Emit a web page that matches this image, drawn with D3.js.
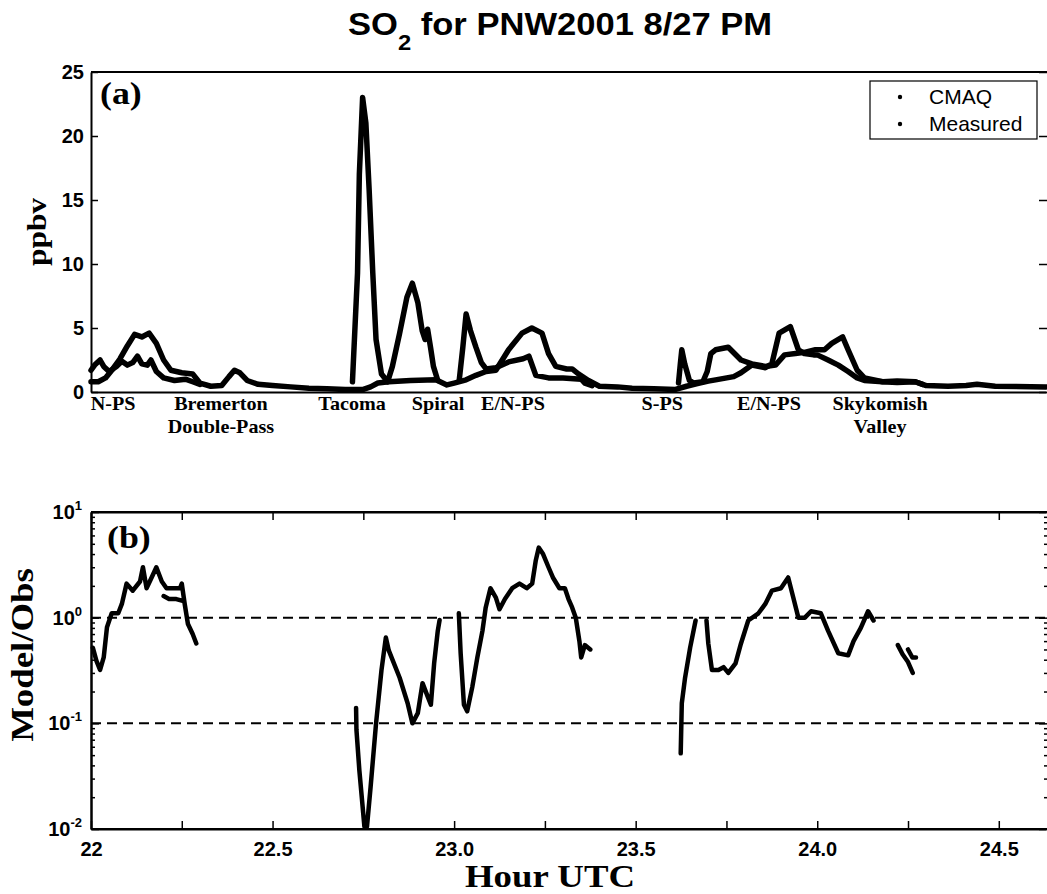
<!DOCTYPE html>
<html>
<head>
<meta charset="utf-8">
<script src="https://cdn.jsdelivr.net/npm/d3@7"></script>
<style>
  body { margin: 0; background: #fff; }
  svg { display: block; }
</style>
</head>
<body>
<svg width="1047" height="894"></svg>
<script>
// ---- data: [hour UTC, value], null = gap ----
const cmaq = [
  [22.00,0.8],[22.02,0.8],[22.04,1.1],[22.06,1.8],[22.08,2.6],[22.10,3.6],[22.12,4.5],[22.14,4.3],
  [22.16,4.6],[22.18,3.8],[22.20,2.5],[22.22,1.7],[22.25,1.5],[22.28,1.4],[22.30,0.7],[22.33,0.45],
  [22.36,0.5],[22.38,1.2],[22.395,1.7],[22.41,1.5],[22.43,0.9],[22.46,0.6],[22.50,0.5],[22.55,0.4],
  [22.60,0.3],[22.65,0.25],[22.70,0.2],[22.75,0.2],[22.77,0.4],[22.79,0.7],[22.82,0.8],[22.88,0.9],
  [22.95,0.95],[22.98,0.55],[23.00,0.7],[23.033,0.95],[23.06,1.3],[23.088,1.6],[23.115,1.7],
  [23.15,3.3],[23.187,4.6],[23.214,5.0],[23.242,4.6],[23.26,3.0],[23.28,2.0],[23.31,1.8],[23.325,1.8],
  [23.343,1.4],[23.37,0.9],[23.40,0.45],[23.45,0.4],[23.49,0.3],[23.55,0.25],[23.61,0.2],[23.64,0.45],
  [23.67,0.65],[23.70,0.85],[23.72,0.95],[23.77,1.2],[23.79,1.5],[23.82,2.1],[23.857,1.9],[23.875,2.2],
  [23.895,4.6],[23.926,5.1],[23.948,3.3],[23.965,3.0],[23.99,2.9],[24.00,2.9],[24.03,2.5],[24.058,2.1],
  [24.085,1.6],[24.11,1.1],[24.13,0.9],[24.18,0.8],[24.22,0.85],[24.27,0.8],[24.30,0.5],[24.36,0.45],
  [24.41,0.5],[24.44,0.6],[24.49,0.45],[24.63,0.4]
];
const measured = [
  [22.00,1.7],[22.01,2.1],[22.025,2.5],[22.035,2.0],[22.05,1.6],[22.07,2.0],[22.085,2.4],[22.10,2.1],
  [22.115,2.3],[22.128,2.8],[22.14,2.2],[22.155,2.1],[22.165,2.5],[22.18,1.6],[22.20,1.1],[22.23,0.9],
  [22.26,1.0],[22.28,0.8],[22.30,0.6],
  null,
  [22.72,0.8],[22.734,9.3],[22.739,17],[22.748,23],[22.757,21],[22.766,15.8],[22.776,9.3],[22.785,4.1],
  [22.80,1.4],[22.817,0.8],[22.83,2.0],[22.85,4.6],[22.87,7.4],[22.885,8.5],[22.90,7.0],[22.912,4.8],
  [22.92,4.1],[22.927,4.9],[22.935,3.5],[22.943,2.0],[22.955,0.9],
  null,
  [23.014,0.9],[23.024,3.5],[23.033,6.1],[23.045,4.8],[23.06,3.5],[23.075,2.3],[23.088,1.8],[23.115,1.9],
  [23.15,2.35],[23.19,2.6],[23.206,2.8],[23.225,1.3],[23.26,1.1],[23.30,1.1],[23.35,1.0],[23.36,0.7],
  [23.38,0.5],
  null,
  [23.618,0.7],[23.623,2.2],[23.627,3.3],[23.635,2.2],[23.648,0.9],[23.66,0.7],[23.685,0.8],[23.697,1.6],
  [23.707,3.0],[23.72,3.3],[23.755,3.5],[23.79,2.5],[23.82,2.2],[23.857,2.0],[23.885,2.1],[23.91,2.9],
  [23.94,3.0],[23.965,3.1],[23.995,3.3],[24.02,3.3],[24.04,3.8],[24.07,4.3],[24.085,3.3],[24.11,1.7],
  [24.13,1.1],[24.18,0.8],[24.22,0.75],[24.27,0.8],[24.29,0.6]
];
const ratio = [
  [22.005,0.52],[22.015,0.39],[22.025,0.32],[22.035,0.42],[22.044,0.81],[22.057,1.1],[22.075,1.1],
  [22.085,1.35],[22.098,2.1],[22.115,1.8],[22.135,2.2],[22.143,3.0],[22.153,1.9],[22.167,2.4],[22.18,3.0],
  [22.195,2.2],[22.208,1.9],[22.226,1.9],[22.245,1.9],[22.25,2.1],[22.258,1.35],[22.267,0.87],[22.28,0.7],
  [22.29,0.57],
  null,
  [22.20,1.6],[22.215,1.5],[22.235,1.5],[22.25,1.45],
  null,
  [22.73,0.14],[22.731,0.087],[22.739,0.036],[22.753,0.0105],[22.76,0.0105],[22.77,0.025],[22.785,0.1],
  [22.80,0.32],[22.812,0.65],[22.82,0.49],[22.85,0.27],[22.872,0.155],[22.885,0.1],[22.90,0.125],
  [22.913,0.24],[22.927,0.18],[22.936,0.15],[22.945,0.37],[22.955,0.75],[22.96,0.95],
  null,
  [23.013,1.1],[23.018,0.46],[23.027,0.15],[23.036,0.13],[23.05,0.22],[23.064,0.42],[23.078,0.75],
  [23.087,1.25],[23.10,1.9],[23.115,1.55],[23.125,1.2],[23.14,1.5],[23.16,1.9],[23.18,2.1],[23.20,1.9],
  [23.215,2.1],[23.225,3.5],[23.233,4.6],[23.245,4.0],[23.26,3.0],[23.272,2.4],[23.29,1.9],[23.305,1.9],
  [23.315,1.5],[23.325,1.25],[23.335,1.0],[23.345,0.6],[23.35,0.42],[23.36,0.55],[23.375,0.5],
  null,
  [23.624,0.052],[23.627,0.155],[23.636,0.27],[23.65,0.52],[23.665,0.94],
  null,
  [23.695,0.94],[23.70,0.57],[23.71,0.32],[23.728,0.32],[23.742,0.34],[23.755,0.3],[23.775,0.37],
  [23.79,0.57],[23.81,0.94],[23.838,1.1],[23.857,1.35],[23.875,1.8],[23.90,1.9],[23.92,2.4],[23.934,1.55],
  [23.948,1.0],[23.966,1.0],[23.983,1.15],[24.01,1.1],[24.03,0.75],[24.058,0.46],[24.085,0.44],[24.10,0.6],
  [24.12,0.8],[24.14,1.15],[24.155,0.94],
  null,
  [24.222,0.55],[24.235,0.45],[24.25,0.38],[24.263,0.3],
  null,
  [24.25,0.5],[24.262,0.42],[24.272,0.42]
];

const yTicksA = [0, 5, 10, 15, 20, 25];
const yTicksB = [0.01, 0.1, 1, 10];
const yTickExpB = ["-2", "-1", "0", "1"];
const xTicksB = [22, 22.5, 23, 23.5, 24, 24.5];
const xTickLabelsB = ["22", "22.5", "23.0", "23.5", "24.0", "24.5"];
const refLines = [1, 0.1];
const siteLabels = [["N-PS"], ["Bremerton", "Double-Pass"], ["Tacoma"], ["Spiral"], ["E/N-PS"],
                    ["S-PS"], ["E/N-PS"], ["Skykomish", "Valley"]];
const siteHours = [22.061, 22.358, 22.719, 22.956, 23.162, 23.573, 23.867, 24.173];
const legendLabels = ["CMAQ", "Measured"];

// ---- layout ----
const svg = d3.select("svg");
const sans = "'Liberation Sans', Arial, Helvetica, sans-serif";
const serif = "'Liberation Serif', 'Times New Roman', Times, serif";
const left = 91, rightEdge = 1049;

const x = d3.scaleLinear().domain([22, 24.63]).range([left, 1046]);
const yA = d3.scaleLinear().domain([0, 25]).range([392, 72]);
const yB = d3.scaleLog().domain([0.01, 10]).range([829, 512]);

function label(g, str, px, py, o) {
  return g.append("text")
    .attr("transform", `translate(${px},${py})` + (o.rotate ? ` rotate(${o.rotate})` : "") + ` scale(${o.sx || 1},1)`)
    .attr("text-anchor", o.anchor || "middle")
    .attr("font-family", o.serif ? serif : sans)
    .attr("font-size", o.size)
    .attr("font-weight", o.weight || "bold")
    .attr("fill", "#000")
    .text(str);
}

function styleAxis(g, w) {
  g.select(".domain").attr("stroke", "#000").attr("stroke-width", w || 2);
  g.selectAll(".tick line").attr("stroke", "#000").attr("stroke-width", 1.5);
  g.selectAll(".tick text").attr("font-family", sans).attr("font-size", 20)
    .attr("font-weight", "bold").attr("fill", "#000");
}

// title
const title = svg.append("text")
  .attr("transform", "translate(348,35) scale(1.08,1)")
  .attr("font-family", sans).attr("font-size", 32).attr("font-weight", "bold");
title.append("tspan").text("SO");
title.append("tspan").attr("font-size", 22).attr("dy", 15).text("2");
title.append("tspan").attr("dy", -15).text(" for PNW2001 8/27 PM");

// ================= panel (a) =================
const gA = svg.append("g");

gA.append("g").attr("transform", `translate(${left},0)`)
  .call(d3.axisLeft(yA).tickValues(yTicksA).tickSize(-7).tickSizeOuter(0).tickPadding(7))
  .call(styleAxis);
gA.append("g").attr("transform", `translate(${rightEdge},0)`)
  .call(d3.axisRight(yA).tickValues(yTicksA).tickSize(-10).tickSizeOuter(0).tickFormat(""))
  .call(styleAxis);
gA.append("g").attr("transform", `translate(0,${yA(0)})`)
  .call(d3.axisBottom(x).tickValues([]).tickSizeOuter(0))
  .call(styleAxis);
gA.append("line").attr("x1", left).attr("x2", rightEdge).attr("y1", yA(25)).attr("y2", yA(25))
  .attr("stroke", "#000").attr("stroke-width", 2);

const lineA = d3.line().defined(d => d !== null).x(d => x(d[0])).y(d => yA(d[1]));
[cmaq, measured].forEach(series => {
  gA.append("path").datum(series)
    .attr("d", lineA)
    .attr("fill", "none").attr("stroke", "#000").attr("stroke-width", 5.5)
    .attr("stroke-linejoin", "round").attr("stroke-linecap", "round");
});

label(gA, "(a)", 100, 104, {serif: true, size: 32, sx: 1.12, anchor: "start"});
label(gA, "ppbv", 46, 232, {serif: true, size: 28, sx: 1.12, rotate: -90});

siteLabels.forEach((lines, i) => {
  lines.forEach((s, j) => {
    label(gA, s, x(siteHours[i]), 410 + j * 23, {serif: true, size: 18, sx: 1.12});
  });
});

// legend
const leg = gA.append("g");
leg.append("rect").attr("x", 870).attr("y", 81).attr("width", 167).attr("height", 58)
  .attr("fill", "#fff").attr("stroke", "#000").attr("stroke-width", 1.2);
legendLabels.forEach((s, i) => {
  leg.append("circle").attr("cx", 900).attr("cy", 97 + i * 27).attr("r", 2.2).attr("fill", "#000");
  label(leg, s, 929, 104 + i * 27, {size: 21, weight: "normal", anchor: "start"});
});

// ================= panel (b) =================
const gB = svg.append("g");

// dashed reference lines
gB.selectAll("line.ref").data(refLines).join("line")
  .attr("class", "ref")
  .attr("x1", left).attr("x2", rightEdge)
  .attr("y1", d => yB(d)).attr("y2", d => yB(d))
  .attr("stroke", "#000").attr("stroke-width", 2).attr("stroke-dasharray", "10,6");

const minorY = yB.ticks().filter(v => !yTicksB.includes(v));
const quarterX = d3.range(22, 24.63, 0.25);

// left axis: major with superscript labels, minor ticks
const axL = gB.append("g").attr("transform", `translate(${left},0)`)
  .call(d3.axisLeft(yB).tickValues(yTicksB).tickSize(-8).tickSizeOuter(0).tickPadding(9))
  .call(styleAxis);
axL.selectAll(".tick text").each(function(d, i) {
  const t = d3.select(this).text("").attr("font-size", 20);
  t.append("tspan").text("10");
  t.append("tspan").attr("font-size", 13).attr("dy", -9).text(yTickExpB[i]);
});
gB.append("g").attr("transform", `translate(${left},0)`)
  .call(d3.axisLeft(yB).tickValues(minorY).tickSize(-4).tickSizeOuter(0).tickFormat(""))
  .call(styleAxis);
// right axis ticks
gB.append("g").attr("transform", `translate(${rightEdge},0)`)
  .call(d3.axisRight(yB).tickValues(yTicksB).tickSize(-10).tickSizeOuter(0).tickFormat(""))
  .call(styleAxis);
gB.append("g").attr("transform", `translate(${rightEdge},0)`)
  .call(d3.axisRight(yB).tickValues(minorY).tickSize(-5).tickSizeOuter(0).tickFormat(""))
  .call(styleAxis);
// bottom ticks + labels
gB.append("g").attr("transform", `translate(0,${yB(0.01)})`)
  .call(d3.axisBottom(x).tickValues(quarterX).tickSize(-8).tickSizeOuter(0).tickFormat(""))
  .call(styleAxis);
gB.append("g").attr("transform", `translate(0,${yB(0.01)})`)
  .call(d3.axisBottom(x).tickValues(xTicksB).tickSize(0).tickSizeOuter(0).tickPadding(13)
    .tickFormat((d, i) => xTickLabelsB[i]))
  .call(styleAxis)
  .call(g => g.select(".domain").remove());
gB.append("line").attr("x1", left).attr("x2", rightEdge).attr("y1", yB(0.01)).attr("y2", yB(0.01))
  .attr("stroke", "#000").attr("stroke-width", 2);
// top ticks
gB.append("g").attr("transform", `translate(0,${yB(10)})`)
  .call(d3.axisTop(x).tickValues(quarterX).tickSize(-8).tickSizeOuter(0).tickFormat(""))
  .call(styleAxis);
gB.append("line").attr("x1", left).attr("x2", rightEdge).attr("y1", yB(10)).attr("y2", yB(10))
  .attr("stroke", "#000").attr("stroke-width", 2);

const lineB = d3.line().defined(d => d !== null).x(d => x(d[0])).y(d => yB(d[1]));
gB.append("path").datum(ratio)
  .attr("d", lineB)
  .attr("fill", "none").attr("stroke", "#000").attr("stroke-width", 4.5)
  .attr("stroke-linejoin", "round").attr("stroke-linecap", "round");

label(gB, "(b)", 107, 548, {serif: true, size: 32, sx: 1.12, anchor: "start"});
label(gB, "Model/Obs", 33, 655, {serif: true, size: 32, sx: 1.15, rotate: -90});
label(gB, "Hour UTC", 550, 887, {serif: true, size: 32, sx: 1.15});
</script>
</body>
</html>
